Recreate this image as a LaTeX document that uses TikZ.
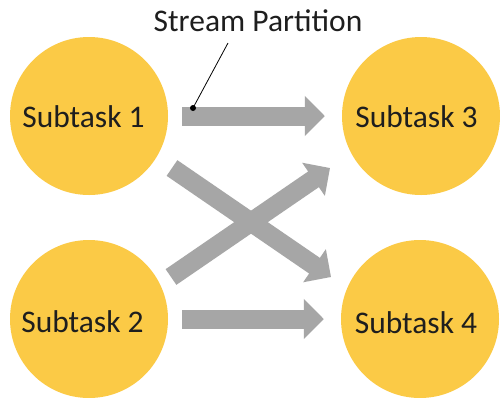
\documentclass[tikz,border=0pt]{standalone}
\usepackage{fontspec}
\setmainfont{Carlito}
\usetikzlibrary{arrows.meta}
\definecolor{taskyellow}{HTML}{FBCA46}
\definecolor{flowgray}{HTML}{A6A6A6}
\definecolor{textdark}{HTML}{1E1E1E}
\tikzset{
  task/.style={circle, fill=taskyellow, minimum size=158pt, inner sep=0pt},
  tasktext/.style={text=textdark, font=\fontsize{31.5}{36}\selectfont, inner sep=0pt},
  flow/.style={draw=flowgray, line width=19pt,
    -{Triangle[length=20pt, width=39pt]}},
  caption/.style={text=textdark, font=\fontsize{31.5}{36}\selectfont, inner sep=0pt},
  leader/.style={draw=black, line width=0.8pt},
}
\begin{document}
\begin{tikzpicture}[x=1pt, y=-1pt]
  \useasboundingbox (0,0) rectangle (500,397);
  \fill[white] (0,0) rectangle (500,397);

  % the four subtasks
  \node[task] (s1) at (89,116) {};
  \node[task] (s3) at (421,116) {};
  \node[task] (s2) at (89,319) {};
  \node[task] (s4) at (420,319) {};
  \node[tasktext] (t1) at (83.5,117) {Subtask 1};
  \node[tasktext] (t3) at (416.5,117) {Subtask 3};
  \node[tasktext] (t2) at (82.5,322) {Subtask 2};
  \node[tasktext] (t4) at (416,323) {Subtask 4};

  % end points of the crossing partitions
  \coordinate (c14a) at (172,168);
  \coordinate (c14b) at (331,277);
  \coordinate (c23a) at (171,277);
  \coordinate (c23b) at (330,168);

  % data flow between subtasks
  \draw[flow, shorten <=14pt, shorten >=17pt] (s1) -- (s3);
  \draw[flow, shorten <=14pt, shorten >=17pt] (s2) -- (s4);
  \draw[flow] (c14a) -- (c14b);
  \draw[flow] (c23a) -- (c23b);

  % label with its pointer
  \node[caption] (lbl) at (258,21) {Stream Partition};
  \coordinate (lblfoot) at (228,43);
  \coordinate (dot) at (193,108);
  \draw[leader] (lblfoot) -- (dot);
  \fill[black] (dot) circle (3pt);
\end{tikzpicture}
\end{document}
